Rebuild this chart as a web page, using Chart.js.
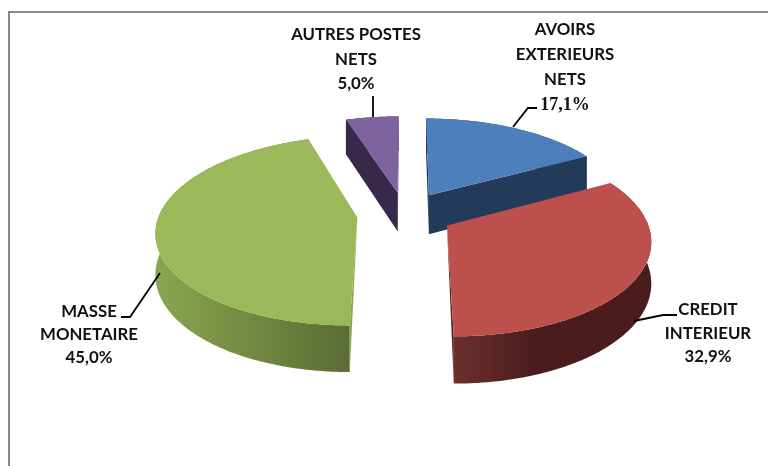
<!DOCTYPE html>
<html>
<head>
<meta charset="utf-8">
<script src="https://cdn.jsdelivr.net/npm/chart.js@4"></script>
<style>
    html, body { margin: 0; padding: 0; background: #fff; }
    #frame { position: absolute; left: 8px; top: 11px; right: 0; bottom: 0; border-top: 2px solid #888; border-left: 2px solid #888; }
    canvas { position: absolute; left: 0; top: 0; }
</style>
</head>
<body>
<div id="frame"></div>
<canvas id="pie" width="768" height="466"></canvas>
<script>
// Donnees
const categories = [
    ['AVOIRS', 'EXTERIEURS', 'NETS'],
    ['CREDIT', 'INTERIEUR'],
    ['MASSE', 'MONETAIRE'],
    ['AUTRES POSTES', 'NETS']
];
const values = [17.1, 32.9, 45.0, 5.0];

// Couleurs par part
const topColors = ['#4d7fbc', '#bd4f4c', '#9aba5a', '#7f63a1'];
const edgeColors = ['#243a59', '#5a2725', '#8aa851', '#36294a'];
const rimLeft = ['#243a59', '#6b2f2c', '#8aa650', '#36294a'];
const rimRight = ['#243a59', '#4a1d1c', '#5b6c33', '#36294a'];
const rimStop = [1, 0.4, 1, 1];

// Emplacement des etiquettes: centre x, y de la premiere ligne, interligne
const labelX = [565, 708, 89, 356];
const labelY = [30, 310, 312, 35];
const lineGap = [25, 23.5, 23, 24.5];
const leaders = [
    [[513, 127], [528, 108], [537, 108]],
    [[634, 321], [663, 315], [677, 315]],
    [[160, 273], [130, 317], [121, 317]],
    [[373, 96], [373, 117]]
];

// Perspective du plan du camembert
const flatten = 0.465;
const vanish = 0.000692;
const depth = 40;

function project(arc, u, w, down) {
    let s = 1 / (1 - vanish * w);
    return {
        x: arc.x + u * s,
        y: arc.y + flatten * w * s + (down ? depth * s : 0)
    };
}

function slicePoints(arc, down) {
    let mid = (arc.startAngle + arc.endAngle) / 2;
    let ox = Math.cos(mid) * arc.options.offset;
    let oy = Math.sin(mid) * arc.options.offset;
    let rim = [];
    let steps = Math.ceil((arc.endAngle - arc.startAngle) * 90);
    for (let i = 0; i <= steps; i++) {
        let a = arc.startAngle + (arc.endAngle - arc.startAngle) * i / steps;
        rim.push(project(arc, ox + Math.cos(a) * arc.outerRadius, oy + Math.sin(a) * arc.outerRadius, down));
    }
    return { apex: project(arc, ox, oy, down), rim: rim };
}

function fillPoly(ctx, points, color) {
    ctx.beginPath();
    points.forEach((p, i) => i ? ctx.lineTo(p.x, p.y) : ctx.moveTo(p.x, p.y));
    ctx.closePath();
    ctx.fillStyle = color;
    ctx.fill();
}

const pie3d = {
    id: 'pie3d',
    beforeDatasetsDraw(chart) {
        let ctx = chart.ctx;
        let arcs = chart.getDatasetMeta(0).data;
        // les parts du fond d'abord
        let order = [3, 0, 2, 1];
        order.forEach(i => {
            let top = slicePoints(arcs[i], false);
            let bottom = slicePoints(arcs[i], true);
            let last = top.rim.length - 1;

            let xs = top.rim.map(p => p.x);
            let grad = ctx.createLinearGradient(Math.min(...xs), 0, Math.max(...xs), 0);
            grad.addColorStop(0, rimLeft[i]);
            grad.addColorStop(rimStop[i], rimRight[i]);
            fillPoly(ctx, top.rim.concat(bottom.rim.slice().reverse()), grad);

            if (i === 1) {
                // tranche fine de la part rouge
                fillPoly(ctx, [top.apex, top.rim[last], bottom.rim[last]], edgeColors[i]);
            } else if (i === 2) {
                fillPoly(ctx, [top.apex, top.rim[0], bottom.rim[0]], edgeColors[i]);
            } else {
                fillPoly(ctx, [top.apex, top.rim[0], bottom.rim[0], bottom.apex], edgeColors[i]);
                fillPoly(ctx, [top.apex, top.rim[last], bottom.rim[last], bottom.apex], edgeColors[i]);
            }
            fillPoly(ctx, [top.apex].concat(top.rim), topColors[i]);
        });
        return false;
    },
    afterDraw(chart) {
        let ctx = chart.ctx;
        ctx.save();
        ctx.strokeStyle = '#000';
        ctx.lineWidth = 1.8;
        leaders.forEach(line => {
            ctx.beginPath();
            line.forEach((p, i) => i ? ctx.lineTo(p[0], p[1]) : ctx.moveTo(p[0], p[1]));
            ctx.stroke();
        });
        ctx.fillStyle = '#111';
        ctx.textAlign = 'center';
        ctx.textBaseline = 'middle';
        categories.forEach((lines, i) => {
            let text = lines.concat(values[i].toFixed(1).replace('.', ',') + '%');
            text.forEach((t, j) => {
                ctx.font = i === 0 && j === 3 ? 'bold 18px "Liberation Serif"' : 'bold 16.8px Lato';
                ctx.fillText(t, labelX[i], labelY[i] + j * lineGap[i]);
            });
        });
        ctx.restore();
    }
};

let chart = new Chart(document.getElementById('pie'), {
    type: 'pie',
    data: {
        labels: categories.map(c => c.join(' ')),
        datasets: [{
            data: values,
            backgroundColor: topColors,
            borderWidth: 0,
            offset: 48
        }]
    },
    options: {
        responsive: false,
        animation: false,
        radius: 198,
        layout: { padding: { left: 42, bottom: 38 } },
        plugins: { legend: { display: false }, tooltip: { enabled: false } }
    },
    plugins: [pie3d]
});
</script>
</body>
</html>
